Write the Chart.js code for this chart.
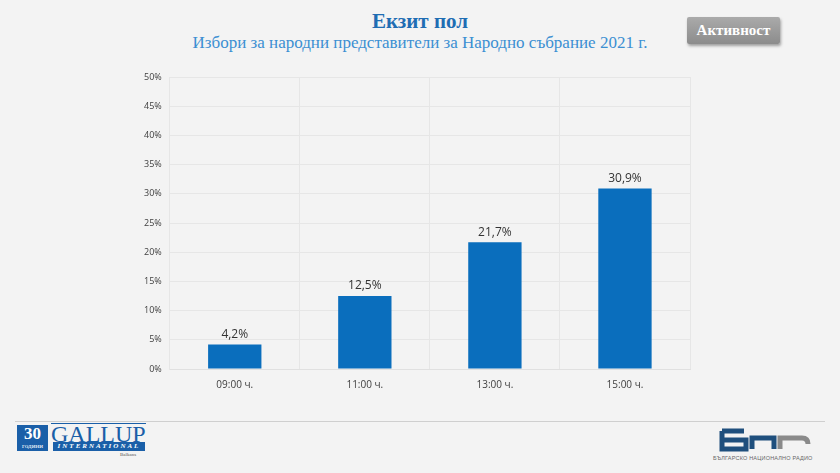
<!DOCTYPE html>
<html>
<head>
<meta charset="utf-8">
<script src="https://cdn.jsdelivr.net/npm/chart.js@4/dist/chart.umd.min.js"></script>
<style>
  html, body { margin: 0; padding: 0; }
  body { width: 840px; height: 473px; background: #f3f3f3; position: relative; overflow: hidden; font-family: "Liberation Serif", "DejaVu Serif", serif; }
  #title { position: absolute; top: 9px; left: 0; width: 840px; text-align: center; font-size: 21px; font-weight: bold; color: #1f6db3; }
  #subtitle { position: absolute; top: 33px; left: 0; width: 840px; text-align: center; font-size: 17px; color: #3b8fd2; }
  #btn { position: absolute; left: 687px; top: 17px; width: 93px; height: 27px; background: linear-gradient(#aaa, #8c8c8c); color: #fff; font-weight: bold; font-size: 15px; line-height: 27px; text-align: center; border-radius: 2px; box-shadow: 1px 2px 3px rgba(0,0,0,0.35); }
  #wrap { position: absolute; left: 0; top: 60px; width: 840px; height: 341px; }
  #rule { position: absolute; left: 15px; top: 421px; width: 810px; height: 1px; background: #cfcfcf; }
  #g30 { position: absolute; left: 17px; top: 425px; width: 31px; height: 26px; background: #1a5fa8; color: #fff; text-align: center; }
  #g30 .n { font-size: 17px; font-weight: bold; line-height: 17px; display: block; }
  #g30 .s { font-size: 7px; line-height: 8px; display: block; }
  #gal { position: absolute; left: 51px; top: 423px; font-size: 24px; color: #1a5fa8; letter-spacing: 0px; line-height: 21px; border-top: 1px solid #1a5fa8; }
  #intl { position: absolute; left: 53px; top: 442px; width: 92px; height: 9px; background: #1a5fa8; color: #fff; font-size: 7px; font-weight: bold; font-style: italic; letter-spacing: 2px; line-height: 9px; text-align: center; }
  #bal { position: absolute; left: 120px; top: 452px; font-size: 5px; color: #555; }
  #bnr { position: absolute; left: 716px; top: 427px; }
  #bnrtxt { position: absolute; left: 713px; top: 455px; font-family: "Liberation Sans", sans-serif; font-size: 5.5px; color: #666; letter-spacing: 0.2px; }
</style>
</head>
<body>
<div id="title">Екзит пол</div>
<div id="subtitle">Избори за народни представители за Народно събрание 2021 г.</div>
<div id="btn">Активност</div>
<div id="wrap"><canvas id="chart"></canvas></div>
<div id="rule"></div>
<div id="g30"><span class="n">30</span><span class="s">години</span></div>
<div id="gal">GALLUP</div>
<div id="intl">INTERNATIONAL</div>
<div id="bal">Balkans</div>
<svg id="bnr" width="100" height="28" viewBox="0 0 100 28">
  <path d="M6 4 H28 M6 4 V22 H30 V13 H8" fill="none" stroke="#1f4f7d" stroke-width="5"/>
  <path d="M36 22 V11 H58 V22" fill="none" stroke="#1f4f7d" stroke-width="5"/>
  <path d="M64 22 V11 H86 Q92 11 92 17" fill="none" stroke="#8a8a8a" stroke-width="5"/>
</svg>
<div id="bnrtxt">БЪЛГАРСКО НАЦИОНАЛНО РАДИО</div>
<script>
const categories = ['09:00 ч.', '11:00 ч.', '13:00 ч.', '15:00 ч.'];
const turnout = [4.2, 12.5, 21.7, 30.9];
const valueLabels = ['4,2%', '12,5%', '21,7%', '30,9%'];

const barLabels = {
  id: 'barLabels',
  afterDatasetsDraw(chart) {
    const ctx = chart.ctx;
    const meta = chart.getDatasetMeta(0);
    ctx.save();
    ctx.font = '12px "Open Sans", sans-serif';
    ctx.fillStyle = '#333';
    ctx.textAlign = 'center';
    ctx.textBaseline = 'bottom';
    meta.data.forEach((bar, i) => {
      ctx.fillText(valueLabels[i], bar.x, bar.y - 4);
    });
    ctx.restore();
  }
};

new Chart(document.getElementById('chart').getContext('2d'), {
  type: 'bar',
  data: {
    labels: categories,
    datasets: [{
      data: turnout,
      backgroundColor: '#0a6ebd',
      borderWidth: 0,
      barPercentage: 0.5,
      categoryPercentage: 0.82
    }]
  },
  options: {
    responsive: true,
    maintainAspectRatio: false,
    animation: false,
    layout: { padding: { left: 136, right: 150, top: 17, bottom: 0 } },
    plugins: { legend: { display: false }, tooltip: { enabled: false } },
    scales: {
      x: {
        grid: { color: '#e6e6e6', drawTicks: false },
        border: { color: '#e0e0e0' },
        ticks: { color: '#404040', font: { family: '"Open Sans", sans-serif', size: 10 }, padding: 10 }
      },
      y: {
        min: 0,
        max: 50,
        ticks: {
          stepSize: 5,
          color: '#404040',
          font: { family: '"Open Sans", sans-serif', size: 9 },
          padding: 8,
          callback: v => v + '%'
        },
        grid: { color: '#e6e6e6', drawTicks: false },
        border: { color: '#e6e6e6' }
      }
    }
  },
  plugins: [barLabels]
});
</script>
</body>
</html>
